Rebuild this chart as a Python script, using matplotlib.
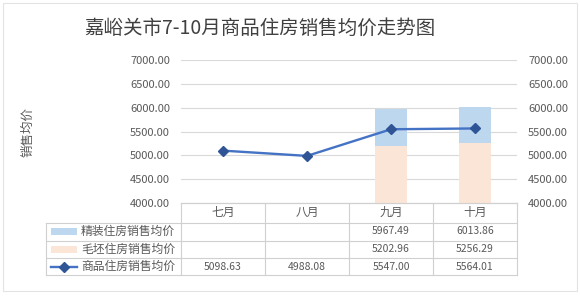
import matplotlib
matplotlib.use("Agg")
import matplotlib.pyplot as plt
from matplotlib.lines import Line2D
from matplotlib.patches import Rectangle
import numpy as np

plt.rcParams['font.family'] = ['Noto Sans CJK SC', 'DejaVu Sans']

title = "嘉峪关市7-10月商品住房销售均价走势图"
months = ["七月", "八月", "九月", "十月"]
series_names = ["精装住房销售均价", "毛坯住房销售均价", "商品住房销售均价"]
finished = [np.nan, np.nan, 5967.49, 6013.86]
rough = [np.nan, np.nan, 5202.96, 5256.29]
overall = [5098.63, 4988.08, 5547.00, 5564.01]
yticks = [4000, 4500, 5000, 5500, 6000, 6500, 7000]

W, H = 580, 297
fig = plt.figure(figsize=(W / 100, H / 100), dpi=100)

def fx(x):
    return x / W

def fy(y):
    return 1 - y / H

BLUE_BAR = "#BDD7EE"
PEACH_BAR = "#FBE5D6"
LINE_C = "#4472C4"
MARK_C = "#2F5597"
GRID_C = "#D9D9D9"
TXT_C = "#595959"

L, R, T, B = 181, 517, 60, 203
ax = fig.add_axes([fx(L), fy(B), fx(R - L), (B - T) / H])
idx = np.arange(len(months))
ax.bar(idx, finished, width=0.39, color=BLUE_BAR, zorder=2)
ax.bar(idx, rough, width=0.39, color=PEACH_BAR, zorder=3)
ax.plot(idx, overall, color=LINE_C, lw=1.7, marker='D', markersize=5,
        markerfacecolor=MARK_C, markeredgecolor=MARK_C, zorder=4)
ax.set_xlim(-0.5, len(months) - 0.5)
ax.set_ylim(4000, 7000)
ax.set_yticks(yticks)
ax.set_yticklabels([f"{v:.2f}" for v in yticks])
ax.set_xticks([])
ax.grid(axis='y', color=GRID_C, lw=0.8, zorder=0)
ax.set_axisbelow(True)
for s in ['top', 'left', 'right']:
    ax.spines[s].set_visible(False)
ax.spines['bottom'].set_color(GRID_C)
ax.tick_params(axis='y', length=0, labelsize=8, labelcolor=TXT_C, pad=8)

ax2 = ax.twinx()
ax2.set_ylim(4000, 7000)
ax2.set_yticks(yticks)
ax2.set_yticklabels([f"{v:.2f}" for v in yticks])
for s in ['top', 'left', 'right', 'bottom']:
    ax2.spines[s].set_visible(False)
ax2.tick_params(axis='y', length=0, labelsize=8, labelcolor=TXT_C, pad=8)

fig.text(fx(28), fy(132), "销售均价", rotation=90, ha='center', va='center',
         fontsize=9, color=TXT_C)

fig.text(fx(260), fy(28), title, ha='center', va='center', fontsize=14, color="#404040")

# outer border
fig.add_artist(Rectangle((fx(3), fy(291)), fx(574), (288) / H, transform=fig.transFigure,
                         fill=False, edgecolor="#E3E3E3", lw=0.8))

# table
col_x = [L + (R - L) * i / len(months) for i in range(len(months) + 1)]
row_y = [203, 222.5, 240.5, 258.3, 275.3]
legL = 46
lc = "#D0D0D0"

def hline(x0, x1, y):
    fig.add_artist(Line2D([fx(x0), fx(x1)], [fy(y), fy(y)], transform=fig.transFigure, color=lc, lw=0.8))

def vline(x, y0, y1):
    fig.add_artist(Line2D([fx(x), fx(x)], [fy(y0), fy(y1)], transform=fig.transFigure, color=lc, lw=0.8))

hline(L, R, row_y[0])
for y in row_y[1:]:
    hline(legL, R, y)
vline(legL, row_y[1], row_y[-1])
for x in col_x:
    vline(x, row_y[0], row_y[-1])

for i, m in enumerate(months):
    cx = (col_x[i] + col_x[i + 1]) / 2
    fig.text(fx(cx), fy((row_y[0] + row_y[1]) / 2), m, ha='center', va='center',
             fontsize=8.5, color=TXT_C)

for r, vals in enumerate([finished, rough, overall]):
    cy = (row_y[r + 1] + row_y[r + 2]) / 2
    for i, v in enumerate(vals):
        if not np.isnan(v):
            cx = (col_x[i] + col_x[i + 1]) / 2
            fig.text(fx(cx), fy(cy), f"{v:.2f}", ha='center', va='center',
                     fontsize=7.5, color=TXT_C)
    fig.text(fx(81), fy(cy), series_names[r], ha='left', va='center',
             fontsize=8.5, color=TXT_C)

# legend keys
for r, c in enumerate([BLUE_BAR, PEACH_BAR]):
    cy = (row_y[r + 1] + row_y[r + 2]) / 2
    fig.add_artist(Rectangle((fx(51), fy(cy + 3.5)), fx(26), 7 / H, transform=fig.transFigure,
                             facecolor=c, edgecolor='none'))
cy = (row_y[3] + row_y[4]) / 2
fig.add_artist(Line2D([fx(51), fx(77)], [fy(cy), fy(cy)], transform=fig.transFigure,
                      color=LINE_C, lw=1.7))
fig.add_artist(Line2D([fx(64)], [fy(cy)], transform=fig.transFigure, marker='D', markersize=5,
                      color=MARK_C, lw=0))

fig.savefig("out.png", dpi=100)
